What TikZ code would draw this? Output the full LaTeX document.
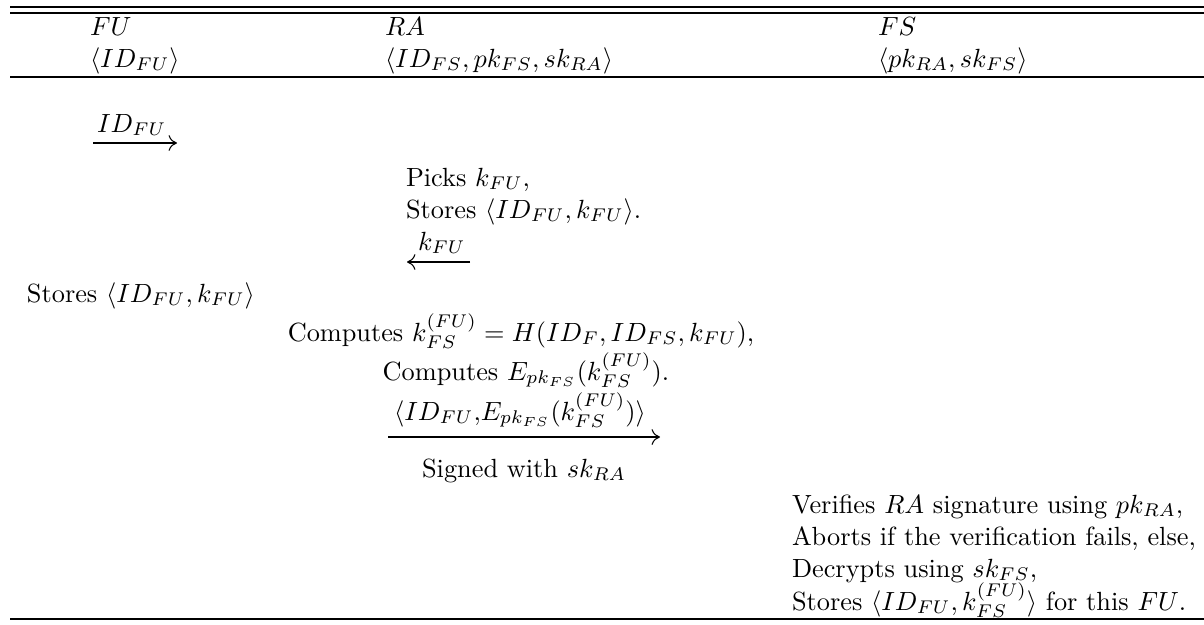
\documentclass[tikz,border=0pt]{standalone}
\usepackage{amsmath}
\usetikzlibrary{arrows.meta}
\tikzset{
  txt/.style={inner sep=0pt, outer sep=0pt, anchor=base west},
  ctxt/.style={inner sep=0pt, outer sep=0pt, anchor=base},
  rule/.style={line width=0.4pt},
  msg/.style={line width=0.4pt, -{Computer Modern Rightarrow[length=3.2pt,width=6pt]}},
}
\begin{document}
\begin{tikzpicture}[x=0.3802pt,y=-0.3802pt]
\useasboundingbox (0,0) rectangle (1204,624);
% rules
\draw[rule] (10,7) -- (1204,7);
\draw[rule] (10,13) -- (1204,13);
\draw[rule] (10,77) -- (1204,77);
\draw[rule] (10,619) -- (1204,619);
% header
\node[txt] (fu) at (90,35) {$FU$};
\node[txt] (fuk) at (90,67) {$\langle ID_{FU}\rangle$};
\node[txt] (ra) at (385,35) {$RA$};
\node[txt] (rak) at (385,67) {$\langle ID_{FS}, pk_{FS}, sk_{RA}\rangle$};
\node[txt] (fs) at (878,35) {$FS$};
\node[txt] (fsk) at (878,67) {$\langle pk_{RA}, sk_{FS}\rangle$};
% message 1
\coordinate (m1a) at (93,143);
\coordinate (m1b) at (177,143);
\draw[msg] (m1a) -- (m1b);
\node[txt] (l1) at (97,132) {$ID_{FU}$};
% RA picks
\node[txt] (picks) at (406,186) {Picks $k_{FU}$,};
\node[txt] (rastores) at (406,218) {Stores $\langle ID_{FU}, k_{FU}\rangle$.};
% message 2
\coordinate (m2a) at (470,262);
\coordinate (m2b) at (407,262);
\draw[msg] (m2a) -- (m2b);
\node[txt] (l2) at (418,250) {$k_{FU}$};
% FU stores
\node[txt] (fustores) at (27,302) {Stores $\langle ID_{FU}, k_{FU}\rangle$};
% RA computes
\node[ctxt] (comp1) at (521,341) {Computes $k_{FS}^{(FU)} = H(ID_F, ID_{FS}, k_{FU})$,};
\node[ctxt] (comp2) at (526,380) {Computes $E_{pk_{FS}}(k_{FS}^{(FU)})$.};
% message 3
\coordinate (m3a) at (388,437);
\coordinate (m3b) at (660,437);
\draw[msg] (m3a) -- (m3b);
\node[ctxt] (l3) at (520,420) {$\langle ID_{FU}{,}E_{pk_{FS}}(k_{FS}^{(FU)})\rangle$};
\node[ctxt] (signed) at (524,477) {Signed with $sk_{RA}$};
% FS
\node[txt] (v1) at (792,513) {Verifies $RA$ signature using $pk_{RA}$,};
\node[txt] (v2) at (792,545) {Aborts if the verification fails, else,};
\node[txt] (v3) at (792,577) {Decrypts using $sk_{FS}$,};
\node[txt] (v4) at (792,610) {Stores $\langle ID_{FU}, k_{FS}^{(FU)}\rangle$ for this $FU$.};
\end{tikzpicture}
\end{document}
